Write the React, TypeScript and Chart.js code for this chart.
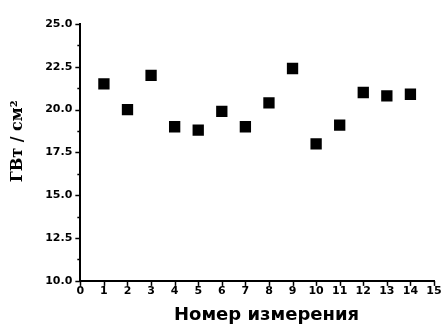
import React, { useEffect, useRef } from "react";
import { Chart, registerables } from "chart.js";

Chart.register(...registerables);

const measurementNumbers = [1, 2, 3, 4, 5, 6, 7, 8, 9, 10, 11, 12, 13, 14];
const intensityValues = [21.5, 20.0, 22.0, 19.0, 18.8, 19.9, 19.0, 20.4, 22.4, 18.0, 19.1, 21.0, 20.8, 20.9];
const xTickRange = [0, 15];
const yTickRange = [10, 25];
const yTitle = "\u00A0\u00A0\u00A0\u00A0ГВт / см²";
const xTitle = "\u00A0\u00A0\u00A0Номер измерения";

const tickPlugin = {
  id: "axisTicks",
  afterDraw(chart: any) {
    const ctx = chart.ctx;
    const x = chart.scales.x;
    const y = chart.scales.y;
    const area = chart.chartArea;
    ctx.save();
    ctx.strokeStyle = "#000";
    ctx.lineWidth = 1.5;
    y.ticks.forEach((t: any) => {
      const py = Math.round(y.getPixelForValue(t.value)) + 0.5;
      const major = Math.abs(t.value / 2.5 - Math.round(t.value / 2.5)) < 1e-6;
      const len = major ? 5 : 3;
      ctx.beginPath();
      ctx.moveTo(area.left, py);
      ctx.lineTo(area.left - len, py);
      ctx.stroke();
    });
    x.ticks.forEach((t: any) => {
      const px = Math.round(x.getPixelForValue(t.value)) + 0.5;
      ctx.beginPath();
      ctx.moveTo(px, area.bottom);
      ctx.lineTo(px, area.bottom + 5);
      ctx.stroke();
    });
    ctx.restore();
  },
};

export default function App() {
  const ref = useRef<HTMLCanvasElement | null>(null);
  useEffect(() => {
    if (!ref.current) return;
    const chart = new Chart(ref.current, {
      type: "scatter",
      data: {
        datasets: [
          {
            data: measurementNumbers.map((n, i) => ({ x: n, y: intensityValues[i] })),
            pointStyle: "rect",
            radius: 8,
            backgroundColor: "#000",
            borderColor: "#000",
            borderWidth: 0,
            showLine: false,
          },
        ],
      },
      options: {
        animation: false,
        responsive: false,
        maintainAspectRatio: false,
        layout: { padding: { left: 8, right: 0, top: 24, bottom: 0 } },
        plugins: { legend: { display: false }, tooltip: { enabled: false } },
        scales: {
          x: {
            type: "linear",
            min: xTickRange[0],
            max: xTickRange[1],
            afterFit: (s: any) => {
              s.paddingRight = 9;
            },
            ticks: {
              stepSize: 1,
              color: "#000",
              padding: 4,
              font: { family: "'DejaVu Sans', sans-serif", weight: "bold", size: 11 },
            },
            grid: { display: false, drawTicks: false },
            border: { display: true, color: "#000", width: 2 },
            title: {
              display: true,
              text: xTitle,
              color: "#000",
              padding: { top: 4, bottom: 0 },
              font: { family: "'DejaVu Sans', sans-serif", weight: "bold", size: 18, lineHeight: 1.05 },
            },
          },
          y: {
            type: "linear",
            min: yTickRange[0],
            max: yTickRange[1],
            ticks: {
              stepSize: 1.25,
              color: "#000",
              padding: 8,
              font: { family: "'DejaVu Sans', sans-serif", weight: "bold", size: 11 },
              callback: (v: any) => {
                const n = Number(v);
                return Math.abs(n / 2.5 - Math.round(n / 2.5)) < 1e-6 ? n.toFixed(1) : "";
              },
            },
            grid: { display: false, drawTicks: false },
            border: { display: true, color: "#000", width: 2 },
            title: {
              display: true,
              text: yTitle,
              color: "#000",
              padding: { top: 0, bottom: 10 },
              font: { family: "'DejaVu Serif', serif", weight: "bold", size: 16 },
            },
          },
        },
      },
      plugins: [tickPlugin],
    });
    return () => chart.destroy();
  }, []);
  return (
    <div style={{ position: "fixed", left: 0, top: 0, width: 443, height: 325, background: "#fff" }}>
      <canvas ref={ref} width={443} height={325} style={{ width: 443, height: 325 }} />
    </div>
  );
}
